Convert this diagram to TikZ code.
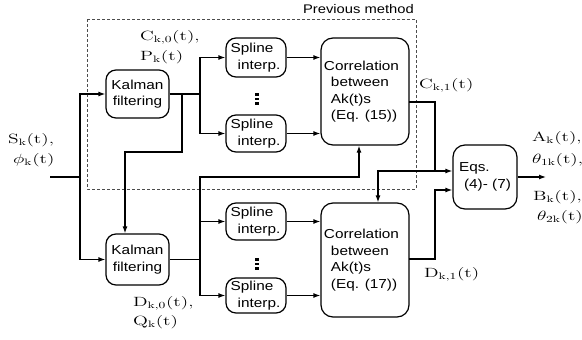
\documentclass[tikz,border=0pt]{standalone}
\usepackage{fontspec}
\usepackage{graphicx}
\usetikzlibrary{arrows.meta}
\newfontfamily\boxfont[FakeStretch=1.18]{Liberation Sans}
\newcommand{\lbl}[1]{\scalebox{1.35}[0.93]{$#1$}}
\newcommand{\rmk}{\mathrm{k}}
\tikzset{
  blk/.style={draw, line width=1.2pt, rounded corners=10pt, inner sep=0pt,
    font=\boxfont\fontsize{13}{16.5}\selectfont, align=center},
  conn/.style={line width=1.2pt},
  arr/.style={line width=1.2pt, -{Latex[length=7pt,width=5pt]}},
  lab/.style={inner sep=0pt, anchor=west, font=\fontsize{14.4}{17}\selectfont},
  prev/.style={draw=black!70, line width=0.8pt, dash pattern=on 3pt off 2pt},
  dotmark/.style={fill=black, draw=none},
}
\begin{document}
\begin{tikzpicture}[x=1pt,y=-1pt]
\useasboundingbox (0,0) rectangle (582,340);
% dashed frame
\draw[prev] (87,19) rectangle (416,189);
\node[inner sep=0pt, anchor=east, font=\boxfont\fontsize{12.5}{15}\selectfont] (pm) at (414,9) {Previous method};
% blocks
\node[blk, minimum width=63pt, minimum height=48pt] (kal1) at (137.5,94) {Kalman\\filtering};
\node[blk, minimum width=63pt, minimum height=51pt] (kal2) at (137.5,259.5) {Kalman\\filtering};
\node[blk, minimum width=60pt, minimum height=39pt] (sp1) at (256,57.5) {\hspace*{-8pt}Spline\\\hspace*{6pt}interp.};
\node[blk, minimum width=60pt, minimum height=37pt] (sp2) at (256,133.5) {\hspace*{-8pt}Spline\\\hspace*{6pt}interp.};
\node[blk, minimum width=60pt, minimum height=37pt] (sp3) at (256,221.5) {\hspace*{-8pt}Spline\\\hspace*{6pt}interp.};
\node[blk, minimum width=60pt, minimum height=35pt] (sp4) at (256,295.5) {\hspace*{-8pt}Spline\\\hspace*{6pt}interp.};
\node[blk, rounded corners=12pt, minimum width=88pt, minimum height=107pt, align=left] (cor1) at (365,91.5) {\hspace*{-7pt}Correlation\\between\\Ak(t)s\\(Eq. (15))};
\node[blk, rounded corners=12pt, minimum width=88pt, minimum height=114pt, align=left] (cor2) at (365,260) {\hspace*{-7pt}Correlation\\between\\Ak(t)s\\(Eq. (17))};
\node[blk, rounded corners=12pt, minimum width=64pt, minimum height=64pt, align=left] (eqs) at (485,177) {Eqs.\\\hspace*{5pt}(4)- (7)};
% dots
\foreach \yy in {94.5,99,103.5}{\fill[dotmark] (254.5,\yy-1.3) rectangle (258.5,\yy+1.3);}
\foreach \yy in {259.5,264,268.5}{\fill[dotmark] (254.5,\yy-1.3) rectangle (258.5,\yy+1.3);}
% coordinates
\coordinate (in) at (50,177);
\coordinate (j0) at (80,177);
\coordinate (b1) at (200,94);
\coordinate (k1) at (182,94);
\coordinate (k1d) at (182,152);
\coordinate (b2) at (200,259.5);
\coordinate (b2u) at (200,177);
\coordinate (c1) at (409,102);
\coordinate (j1) at (435,171);
\coordinate (c2) at (409,259);
\coordinate (out) at (546,177);
% connectors
\draw[conn] (in) -- (j0);
\draw[arr] (j0) |- (kal1.west);
\draw[arr] (j0) |- (kal2.west);
\draw[conn] (kal1.east) -- (b1);
\draw[arr] (b1) |- (sp1.west);
\draw[arr] (b1) |- (sp2.west);
\draw[arr] (k1) -- (k1d) -| (kal2.north -| 125,0);
\draw[arr] (sp1.east) -- (sp1.east -| cor1.west);
\draw[arr] (sp2.east) -- (sp2.east -| cor1.west);
\draw[conn] (kal2.east) -- (b2);
\draw[arr] (b2) |- (sp3.west);
\draw[arr] (b2) |- (sp4.west);
\draw[arr] (b2) -- (b2u) -| (cor1.south -| 359,0);
\draw[arr] (sp3.east) -- (sp3.east -| cor2.west);
\draw[arr] (sp4.east) -- (sp4.east -| cor2.west);
\draw[conn] (c1) -| (j1);
\draw[arr] (j1) -- (j1 -| eqs.west);
\draw[arr] (j1) -| (cor2.north -| 378,0);
\draw[arr] (c2) -| (435,190) -- (eqs.west |- 0,190);
\draw[arr] (eqs.east) -- (out);
% labels
\node[lab] (lS) at (8,140) {\lbl{\mathrm{S}_\rmk(\mathrm{t}),}};
\node[lab] (lphi) at (13,160) {\lbl{\phi_\rmk(\mathrm{t})}};
\node[lab] (lC0) at (140,37) {\lbl{\mathrm{C}_{\mathrm{k,0}}(\mathrm{t}),}};
\node[lab] (lP) at (140,57) {\lbl{\mathrm{P}_\rmk(\mathrm{t})}};
\node[lab] (lD0) at (133,303) {\lbl{\mathrm{D}_{\mathrm{k,0}}(\mathrm{t}),}};
\node[lab] (lQ) at (133,322) {\lbl{\mathrm{Q}_\rmk(\mathrm{t})}};
\node[lab] (lC1) at (419,85) {\lbl{\mathrm{C}_{\mathrm{k,1}}(\mathrm{t})}};
\node[lab] (lD1) at (424,274) {\lbl{\mathrm{D}_{\mathrm{k,1}}(\mathrm{t})}};
\node[lab] (lA) at (532,138) {\lbl{\mathrm{A}_\rmk(\mathrm{t}),}};
\node[lab] (lt1) at (532,160) {\lbl{\theta_{\mathrm{1k}}(\mathrm{t}),}};
\node[lab] (lB) at (533,197) {\lbl{\mathrm{B}_\rmk(\mathrm{t}),}};
\node[lab] (lt2) at (537,217) {\lbl{\theta_{\mathrm{2k}}(\mathrm{t})}};
\end{tikzpicture}
\end{document}
